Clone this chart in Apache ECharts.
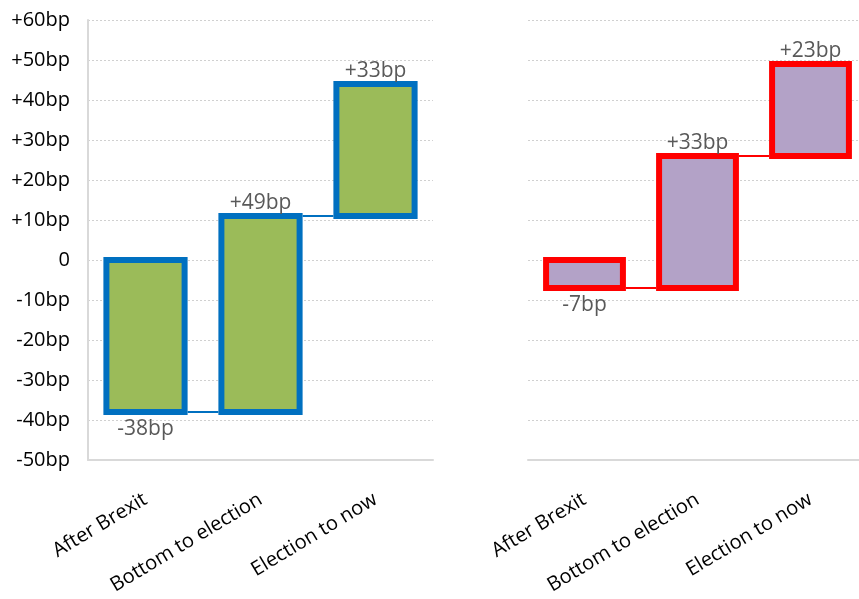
<!DOCTYPE html>
<html>
<head>
<meta charset="utf-8">
<script src="https://cdn.jsdelivr.net/npm/echarts@6/dist/echarts.min.js"></script>
<style>
    html, body { margin: 0; padding: 0; background: #fff; overflow: hidden; }
    #chart { width: 868px; height: 599px; }
</style>
</head>
<body>
<div id="chart"></div>
<script>
const categories = ['After Brexit', 'Bottom to election', 'Election to now'];
const leftChanges = [-38, 49, 33];
const rightChanges = [-7, 33, 23];
const yMin = -50;
const yMax = 60;
const yStep = 10;

/*waterfall rows: [index, start, end, change]*/
function buildSteps(changes) {
    let level = 0;
    return changes.map(function (change, i) {
        const start = level;
        level += change;
        return [i, start, level, change];
    });
}

function fmtBp(v) {
    if (v === 0) return '0';
    return (v > 0 ? '+' : '') + v + 'bp';
}

function waterfall(fill, stroke, count) {
    return function (params, api) {
        const idx = api.value(0);
        const start = api.value(1);
        const end = api.value(2);
        const change = api.value(3);
        const p1 = api.coord([idx, start]);
        const p2 = api.coord([idx, end]);
        const band = api.size([1, 0])[0];
        const w = band * 0.68;
        const x = p1[0] - w / 2;
        const y = Math.min(p1[1], p2[1]);
        const h = Math.abs(p1[1] - p2[1]);
        const children = [{
            type: 'rect',
            shape: { x: x, y: y, width: w, height: h },
            style: { fill: fill, stroke: stroke, lineWidth: 6 }
        }];
        if (idx < count - 1) {
            children.push({
                type: 'line',
                shape: { x1: x + w + 3, y1: p2[1], x2: p1[0] + band - w / 2 - 3, y2: p2[1] },
                style: { stroke: stroke, lineWidth: 2 }
            });
        }
        children.push({
            type: 'text',
            style: {
                text: fmtBp(change),
                x: p1[0],
                y: change > 0 ? y - 2 : y + h + 7,
                align: 'center',
                verticalAlign: change > 0 ? 'bottom' : 'top',
                fill: '#595959',
                fontSize: 21,
                fontFamily: 'Open Sans'
            }
        });
        return { type: 'group', children: children };
    };
}

const chart = echarts.init(document.getElementById('chart'));

const xAxisBase = {
    type: 'category',
    data: categories,
    axisLine: { onZero: false, lineStyle: { color: '#d9d9d9', width: 2 } },
    axisTick: { show: false },
    axisLabel: {
        interval: 0,
        rotate: 31,
        margin: 38,
        color: '#000',
        fontSize: 20,
        fontFamily: 'Open Sans'
    }
};

const yAxisBase = {
    type: 'value',
    min: yMin,
    max: yMax,
    interval: yStep,
    splitLine: { lineStyle: { color: '#d0d0d0', type: [2, 2], width: 1 } }
};

chart.setOption({
    animation: false,
    grid: [
        { left: 88, top: 20, width: 345, bottom: 139 },
        { left: 528, top: 20, width: 339, bottom: 139 }
    ],
    xAxis: [
        Object.assign({ gridIndex: 0 }, xAxisBase),
        Object.assign({ gridIndex: 1 }, xAxisBase)
    ],
    yAxis: [
        Object.assign({
            gridIndex: 0,
            axisLine: { show: true, lineStyle: { color: '#d9d9d9', width: 2 } },
            axisTick: { show: false },
            axisLabel: {
                formatter: fmtBp,
                margin: 18,
                color: '#000',
                fontSize: 20,
                fontFamily: 'Open Sans'
            }
        }, yAxisBase),
        Object.assign({
            gridIndex: 1,
            axisLine: { show: false },
            axisTick: { show: false },
            axisLabel: { show: false }
        }, yAxisBase)
    ],
    series: [
        {
            type: 'custom',
            xAxisIndex: 0,
            yAxisIndex: 0,
            clip: false,
            renderItem: waterfall('#9bbb59', '#0070c0', leftChanges.length),
            data: buildSteps(leftChanges)
        },
        {
            type: 'custom',
            xAxisIndex: 1,
            yAxisIndex: 1,
            clip: false,
            renderItem: waterfall('#b3a2c7', '#ff0000', rightChanges.length),
            data: buildSteps(rightChanges)
        }
    ]
});
</script>
</body>
</html>
